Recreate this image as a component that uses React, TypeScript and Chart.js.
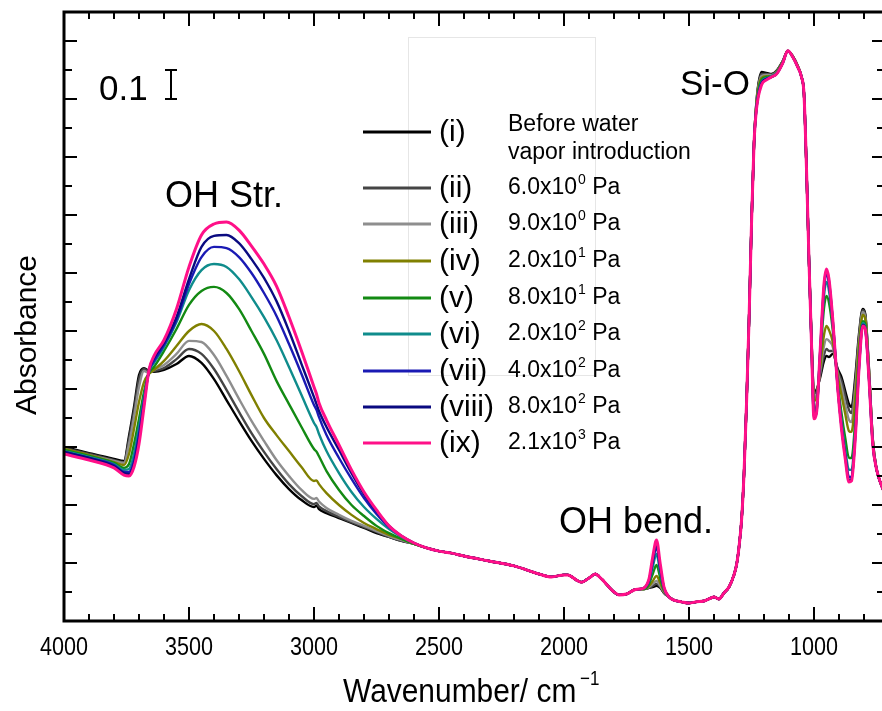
import React, { useEffect, useRef } from 'react';
import { Chart, registerables } from 'chart.js';

Chart.register(...registerables);

// ---------- data ----------
const seriesNumerals = ['(i)', '(ii)', '(iii)', '(iv)', '(v)', '(vi)', '(vii)', '(viii)', '(ix)'];
const pressureBase = ['Before water', '6.0x10', '9.0x10', '2.0x10', '8.0x10', '2.0x10', '4.0x10', '8.0x10', '2.1x10'];
const pressureExp = ['', '0', '0', '1', '1', '2', '2', '2', '3'];
const seriesColors = ['#000000', '#454545', '#8e8e8e', '#808000', '#138a13', '#0f8c8c', '#1a1ab4', '#0a0a80', '#ff1088'];

const xTickLabels = [4000, 3500, 3000, 2500, 2000, 1500, 1000];

// OH stretching region (per series)
const wnOH = [4000, 3900, 3800, 3760, 3740, 3720, 3700, 3680, 3660, 3640, 3600, 3550, 3500, 3450, 3400, 3350, 3300, 3250, 3200, 3150, 3100, 3050, 3000, 2990, 2980, 2950, 2900, 2850, 2800, 2750, 2700, 2650, 2600, 2550];
const absOH: number[][] = [
  [0.400, 0.379, 0.359, 0.352, 0.438, 0.538, 0.648, 0.672, 0.662, 0.659, 0.666, 0.686, 0.714, 0.690, 0.634, 0.562, 0.490, 0.421, 0.359, 0.303, 0.255, 0.217, 0.193, 0.198, 0.186, 0.172, 0.155, 0.138, 0.121, 0.103, 0.090, 0.076, 0.066, 0.052],
  [0.397, 0.376, 0.355, 0.348, 0.428, 0.524, 0.634, 0.669, 0.659, 0.662, 0.672, 0.703, 0.738, 0.721, 0.669, 0.597, 0.521, 0.448, 0.383, 0.324, 0.272, 0.231, 0.203, 0.207, 0.195, 0.179, 0.159, 0.141, 0.124, 0.107, 0.090, 0.076, 0.066, 0.052],
  [0.393, 0.372, 0.352, 0.345, 0.410, 0.503, 0.607, 0.662, 0.655, 0.666, 0.683, 0.721, 0.766, 0.762, 0.717, 0.645, 0.566, 0.490, 0.421, 0.355, 0.300, 0.252, 0.221, 0.224, 0.212, 0.190, 0.166, 0.145, 0.128, 0.110, 0.093, 0.079, 0.066, 0.052],
  [0.393, 0.372, 0.348, 0.338, 0.376, 0.462, 0.555, 0.624, 0.652, 0.666, 0.697, 0.748, 0.800, 0.824, 0.800, 0.738, 0.662, 0.579, 0.500, 0.441, 0.386, 0.331, 0.283, 0.285, 0.272, 0.241, 0.200, 0.166, 0.138, 0.117, 0.097, 0.083, 0.066, 0.052],
  [0.390, 0.369, 0.345, 0.328, 0.341, 0.410, 0.497, 0.590, 0.655, 0.676, 0.731, 0.807, 0.890, 0.938, 0.952, 0.931, 0.876, 0.800, 0.721, 0.628, 0.548, 0.469, 0.393, 0.384, 0.368, 0.317, 0.252, 0.200, 0.162, 0.128, 0.103, 0.083, 0.066, 0.052],
  [0.386, 0.366, 0.341, 0.321, 0.324, 0.376, 0.469, 0.572, 0.659, 0.690, 0.745, 0.831, 0.941, 1.010, 1.031, 1.021, 0.979, 0.917, 0.848, 0.769, 0.676, 0.579, 0.483, 0.469, 0.445, 0.386, 0.310, 0.245, 0.193, 0.152, 0.117, 0.090, 0.069, 0.052],
  [0.383, 0.362, 0.338, 0.314, 0.314, 0.352, 0.445, 0.559, 0.662, 0.697, 0.752, 0.838, 0.962, 1.055, 1.090, 1.086, 1.055, 1.000, 0.931, 0.852, 0.755, 0.652, 0.545, 0.528, 0.503, 0.441, 0.362, 0.290, 0.224, 0.169, 0.124, 0.093, 0.069, 0.052],
  [0.383, 0.362, 0.334, 0.310, 0.307, 0.341, 0.428, 0.548, 0.666, 0.707, 0.759, 0.848, 0.979, 1.090, 1.128, 1.131, 1.103, 1.048, 0.983, 0.903, 0.800, 0.686, 0.572, 0.548, 0.524, 0.469, 0.390, 0.310, 0.238, 0.179, 0.128, 0.093, 0.069, 0.052],
  [0.376, 0.355, 0.328, 0.303, 0.300, 0.331, 0.410, 0.538, 0.666, 0.714, 0.769, 0.876, 1.021, 1.131, 1.169, 1.176, 1.148, 1.093, 1.031, 0.955, 0.848, 0.731, 0.607, 0.583, 0.552, 0.493, 0.407, 0.321, 0.245, 0.183, 0.128, 0.093, 0.069, 0.052],
];

// shared region 2500-1700
const wnMid = [2500, 2450, 2400, 2300, 2200, 2100, 2050, 2000, 1985, 1950, 1930, 1900, 1875, 1850, 1800, 1780, 1750, 1720, 1700];
const absMid = [0.041, 0.034, 0.024, 0.007, -0.010, -0.038, -0.048, -0.041, -0.041, -0.059, -0.066, -0.052, -0.038, -0.055, -0.100, -0.110, -0.107, -0.093, -0.090];

// OH bending region (per series)
const wnBend = [1680, 1660, 1645, 1630, 1615, 1600, 1580];
const absBend: number[][] = [
  [-0.090, -0.086, -0.083, -0.079, -0.086, -0.103, -0.117],
  [-0.090, -0.086, -0.079, -0.072, -0.083, -0.103, -0.117],
  [-0.090, -0.083, -0.072, -0.062, -0.079, -0.100, -0.117],
  [-0.090, -0.079, -0.062, -0.045, -0.069, -0.097, -0.117],
  [-0.090, -0.072, -0.038, -0.007, -0.052, -0.093, -0.117],
  [-0.086, -0.066, -0.014, 0.031, -0.034, -0.090, -0.117],
  [-0.086, -0.062, 0.003, 0.055, -0.021, -0.086, -0.117],
  [-0.086, -0.059, 0.010, 0.066, -0.014, -0.086, -0.117],
  [-0.086, -0.055, 0.021, 0.079, -0.003, -0.083, -0.117],
];

// shared region 1560-1240
const wnLow = [1560, 1530, 1500, 1470, 1440, 1420, 1400, 1380, 1360, 1340, 1320, 1310, 1300, 1290, 1280, 1270, 1260, 1250, 1240];
const absLow = [-0.128, -0.134, -0.138, -0.134, -0.131, -0.124, -0.117, -0.124, -0.103, -0.083, -0.041, -0.007, 0.055, 0.145, 0.307, 0.548, 0.834, 1.169, 1.445];

// Si-O band top (per series)
const wnSiO = [1230, 1210, 1190, 1170, 1150, 1125, 1105, 1085, 1065, 1050, 1040];
const absSiO: number[][] = [
  [1.593, 1.693, 1.690, 1.686, 1.697, 1.731, 1.766, 1.748, 1.714, 1.676, 1.617],
  [1.590, 1.686, 1.686, 1.683, 1.697, 1.731, 1.766, 1.748, 1.714, 1.676, 1.617],
  [1.586, 1.679, 1.683, 1.683, 1.693, 1.728, 1.766, 1.748, 1.714, 1.676, 1.617],
  [1.583, 1.672, 1.679, 1.679, 1.693, 1.728, 1.766, 1.748, 1.714, 1.676, 1.617],
  [1.576, 1.666, 1.676, 1.679, 1.690, 1.728, 1.766, 1.745, 1.710, 1.676, 1.617],
  [1.572, 1.659, 1.672, 1.679, 1.690, 1.724, 1.766, 1.745, 1.710, 1.676, 1.617],
  [1.569, 1.655, 1.669, 1.676, 1.686, 1.724, 1.766, 1.745, 1.710, 1.676, 1.617],
  [1.569, 1.652, 1.669, 1.676, 1.686, 1.724, 1.766, 1.745, 1.710, 1.676, 1.617],
  [1.566, 1.648, 1.666, 1.676, 1.686, 1.724, 1.766, 1.745, 1.710, 1.676, 1.617],
];

// fingerprint region 1030-765 (per series)
const wnFP = [1030, 1020, 1010, 1000, 990, 975, 960, 950, 940, 925, 905, 890, 875, 860, 850, 835, 820, 805, 795, 780, 765];
const absFP: number[][] = [
  [1.359, 1.041, 0.772, 0.590, 0.597, 0.641, 0.697, 0.714, 0.710, 0.721, 0.669, 0.641, 0.593, 0.548, 0.538, 0.641, 0.790, 0.876, 0.859, 0.669, 0.428],
  [1.359, 1.041, 0.772, 0.583, 0.590, 0.648, 0.717, 0.738, 0.731, 0.731, 0.662, 0.628, 0.576, 0.528, 0.517, 0.624, 0.779, 0.872, 0.855, 0.666, 0.428],
  [1.359, 1.041, 0.769, 0.572, 0.579, 0.662, 0.748, 0.772, 0.766, 0.745, 0.655, 0.607, 0.545, 0.493, 0.486, 0.600, 0.766, 0.866, 0.848, 0.662, 0.424],
  [1.359, 1.041, 0.766, 0.559, 0.569, 0.676, 0.786, 0.817, 0.803, 0.762, 0.645, 0.579, 0.514, 0.455, 0.452, 0.569, 0.748, 0.855, 0.841, 0.659, 0.421],
  [1.359, 1.041, 0.762, 0.524, 0.541, 0.707, 0.879, 0.921, 0.897, 0.803, 0.621, 0.517, 0.431, 0.362, 0.362, 0.493, 0.707, 0.834, 0.824, 0.645, 0.417],
  [1.359, 1.041, 0.759, 0.510, 0.528, 0.724, 0.921, 0.969, 0.938, 0.824, 0.610, 0.490, 0.393, 0.321, 0.321, 0.459, 0.686, 0.828, 0.814, 0.641, 0.414],
  [1.359, 1.041, 0.755, 0.503, 0.521, 0.731, 0.945, 0.997, 0.962, 0.834, 0.603, 0.472, 0.372, 0.297, 0.297, 0.441, 0.676, 0.821, 0.810, 0.638, 0.410],
  [1.359, 1.041, 0.755, 0.500, 0.521, 0.734, 0.955, 1.007, 0.972, 0.838, 0.603, 0.469, 0.366, 0.286, 0.290, 0.434, 0.672, 0.821, 0.807, 0.634, 0.410],
  [1.359, 1.041, 0.755, 0.497, 0.517, 0.738, 0.962, 1.014, 0.979, 0.841, 0.600, 0.462, 0.359, 0.279, 0.283, 0.428, 0.669, 0.817, 0.807, 0.634, 0.410],
];

// shared tail
const wnTail = [750, 735, 716];
const absTail = [0.324, 0.279, 0.238];

// ---------- build ----------
const X_MIN = 716;
const X_MAX = 4000;
const Y_MIN = -0.2;
const Y_MAX = 1.9;

function buildSeries(i: number) {
  const wn = [...wnOH, ...wnMid, ...wnBend, ...wnLow, ...wnSiO, ...wnFP, ...wnTail];
  const ab = [...absOH[i], ...absMid, ...absBend[i], ...absLow, ...absSiO[i], ...absFP[i], ...absTail];
  return wn.map((w, k) => ({ x: w, y: ab[k] }));
}

const SANS = '"Liberation Sans", Arial, "DejaVu Sans", sans-serif';

function condensedText(ctx: CanvasRenderingContext2D, text: string, x: number, y: number, sx: number, align: CanvasTextAlign) {
  ctx.save();
  ctx.translate(x, y);
  ctx.scale(sx, 1);
  ctx.textAlign = align;
  ctx.fillText(text, 0, 0);
  ctx.restore();
}

const decorPlugin = {
  id: 'decor',
  afterDraw(chart: any) {
    const { ctx, chartArea: a, scales } = chart;
    const xs = scales.x;
    const ys = scales.y;
    ctx.save();

    // ghost box
    ctx.strokeStyle = '#e6e6e6';
    ctx.lineWidth = 1;
    ctx.strokeRect(408.5, 37.5, 187, 338);

    // frame
    ctx.strokeStyle = '#000';
    ctx.lineWidth = 3;
    ctx.beginPath();
    ctx.moveTo(a.left, a.top);
    ctx.lineTo(a.right, a.top);
    ctx.lineTo(a.right, a.bottom);
    ctx.lineTo(a.left, a.bottom);
    ctx.closePath();
    ctx.stroke();

    // x ticks (bottom & top, inward)
    ctx.lineWidth = 2;
    ctx.beginPath();
    for (let w = 4000; w >= X_MIN; w -= 100) {
      const px = Math.round(xs.getPixelForValue(w));
      const major = w % 500 === 0;
      const len = major ? 14 : 7;
      ctx.moveTo(px, a.bottom);
      ctx.lineTo(px, a.bottom - len);
      ctx.moveTo(px, a.top);
      ctx.lineTo(px, a.top + len);
    }
    // y ticks (left & right, inward)
    for (let k = -1; k <= 18; k++) {
      const py = Math.round(ys.getPixelForValue(k / 10));
      const major = k % 2 === 0;
      const len = major ? 13 : 8;
      ctx.moveTo(a.left, py);
      ctx.lineTo(a.left + len, py);
      ctx.moveTo(a.right, py);
      ctx.lineTo(a.right - len, py);
    }
    ctx.stroke();

    // x tick labels
    ctx.fillStyle = '#000';
    ctx.font = `26px ${SANS}`;
    ctx.textBaseline = 'alphabetic';
    for (const v of xTickLabels) {
      condensedText(ctx, String(v), xs.getPixelForValue(v), a.bottom + 34, 0.83, 'center');
    }

    // x title
    ctx.font = `34px ${SANS}`;
    condensedText(ctx, 'Wavenumber/ cm', 343, a.bottom + 81, 0.88, 'left');
    ctx.font = `20px ${SANS}`;
    condensedText(ctx, '\u22121', 580, a.bottom + 64, 0.85, 'left');

    // y title
    ctx.save();
    ctx.translate(36, 335);
    ctx.rotate(-Math.PI / 2);
    ctx.font = `30px ${SANS}`;
    ctx.textAlign = 'center';
    ctx.textBaseline = 'alphabetic';
    ctx.fillText('Absorbance', 0, 0);
    ctx.restore();

    // scale bar 0.1
    ctx.font = `35px ${SANS}`;
    ctx.textAlign = 'left';
    ctx.fillText('0.1', 99, 100);
    const bx = 171;
    const b0 = ys.getPixelForValue(1.6);
    const b1 = ys.getPixelForValue(1.7);
    ctx.lineWidth = 2;
    ctx.beginPath();
    ctx.moveTo(bx, b0); ctx.lineTo(bx, b1);
    ctx.moveTo(bx - 6, b0); ctx.lineTo(bx + 6, b0);
    ctx.moveTo(bx - 6, b1); ctx.lineTo(bx + 6, b1);
    ctx.stroke();

    // band labels
    ctx.font = `36px ${SANS}`;
    ctx.fillText('OH Str.', 165, 207);
    ctx.font = `35px ${SANS}`;
    ctx.fillText('Si-O', 680, 95);
    ctx.font = `36px ${SANS}`;
    ctx.fillText('OH bend.', 559, 533);

    // legend
    const rowY = [132, 188, 224, 261, 298, 334, 371, 407, 443];
    for (let i = 0; i < seriesNumerals.length; i++) {
      const y = rowY[i];
      ctx.strokeStyle = seriesColors[i];
      ctx.lineWidth = 3;
      ctx.beginPath();
      ctx.moveTo(363, y);
      ctx.lineTo(431, y);
      ctx.stroke();
      ctx.fillStyle = '#000';
      ctx.font = `30px ${SANS}`;
      ctx.textBaseline = 'middle';
      ctx.fillText(seriesNumerals[i], 439, y + 1);
      ctx.font = `23px ${SANS}`;
      if (i === 0) {
        ctx.fillText(pressureBase[0], 508, 125);
        ctx.fillText('vapor introduction', 508, 153);
      } else {
        const base = pressureBase[i];
        ctx.fillText(base, 508, y);
        const w = ctx.measureText(base).width;
        ctx.font = `14px ${SANS}`;
        ctx.fillText(pressureExp[i], 508 + w + 1, y - 8);
        const we = ctx.measureText(pressureExp[i]).width;
        ctx.font = `23px ${SANS}`;
        ctx.fillText(' Pa', 508 + w + we + 1, y);
      }
    }
    ctx.restore();
  },
};

export default function App() {
  const ref = useRef<HTMLCanvasElement>(null);
  useEffect(() => {
    if (!ref.current) return;
    const datasets = seriesNumerals.map((n, i) => ({
      label: `${n} ${pressureBase[i]}${pressureExp[i]}`,
      data: buildSeries(i),
      borderColor: seriesColors[i],
      backgroundColor: seriesColors[i],
      borderWidth: i === 8 ? 3 : 2.4,
      pointRadius: 0,
      fill: false,
      cubicInterpolationMode: 'monotone' as const,
      order: 8 - i,
    }));
    const chart = new Chart(ref.current, {
      type: 'line',
      data: { datasets },
      options: {
        animation: false,
        responsive: false,
        devicePixelRatio: 1,
        layout: { padding: { left: 64, right: 15, top: 12, bottom: 90 } },
        scales: {
          x: { type: 'linear', display: false, reverse: true, min: X_MIN, max: X_MAX },
          y: { type: 'linear', display: false, min: Y_MIN, max: Y_MAX },
        },
        plugins: { legend: { display: false }, tooltip: { enabled: false } },
      },
      plugins: [decorPlugin],
    });
    return () => chart.destroy();
  }, []);
  return (
    <div style={{ position: 'fixed', left: 0, top: 0, width: 882, height: 711, overflow: 'hidden', background: '#fff' }}>
      <canvas ref={ref} width={900} height={711} style={{ display: 'block', width: 900, height: 711 }} />
    </div>
  );
}
